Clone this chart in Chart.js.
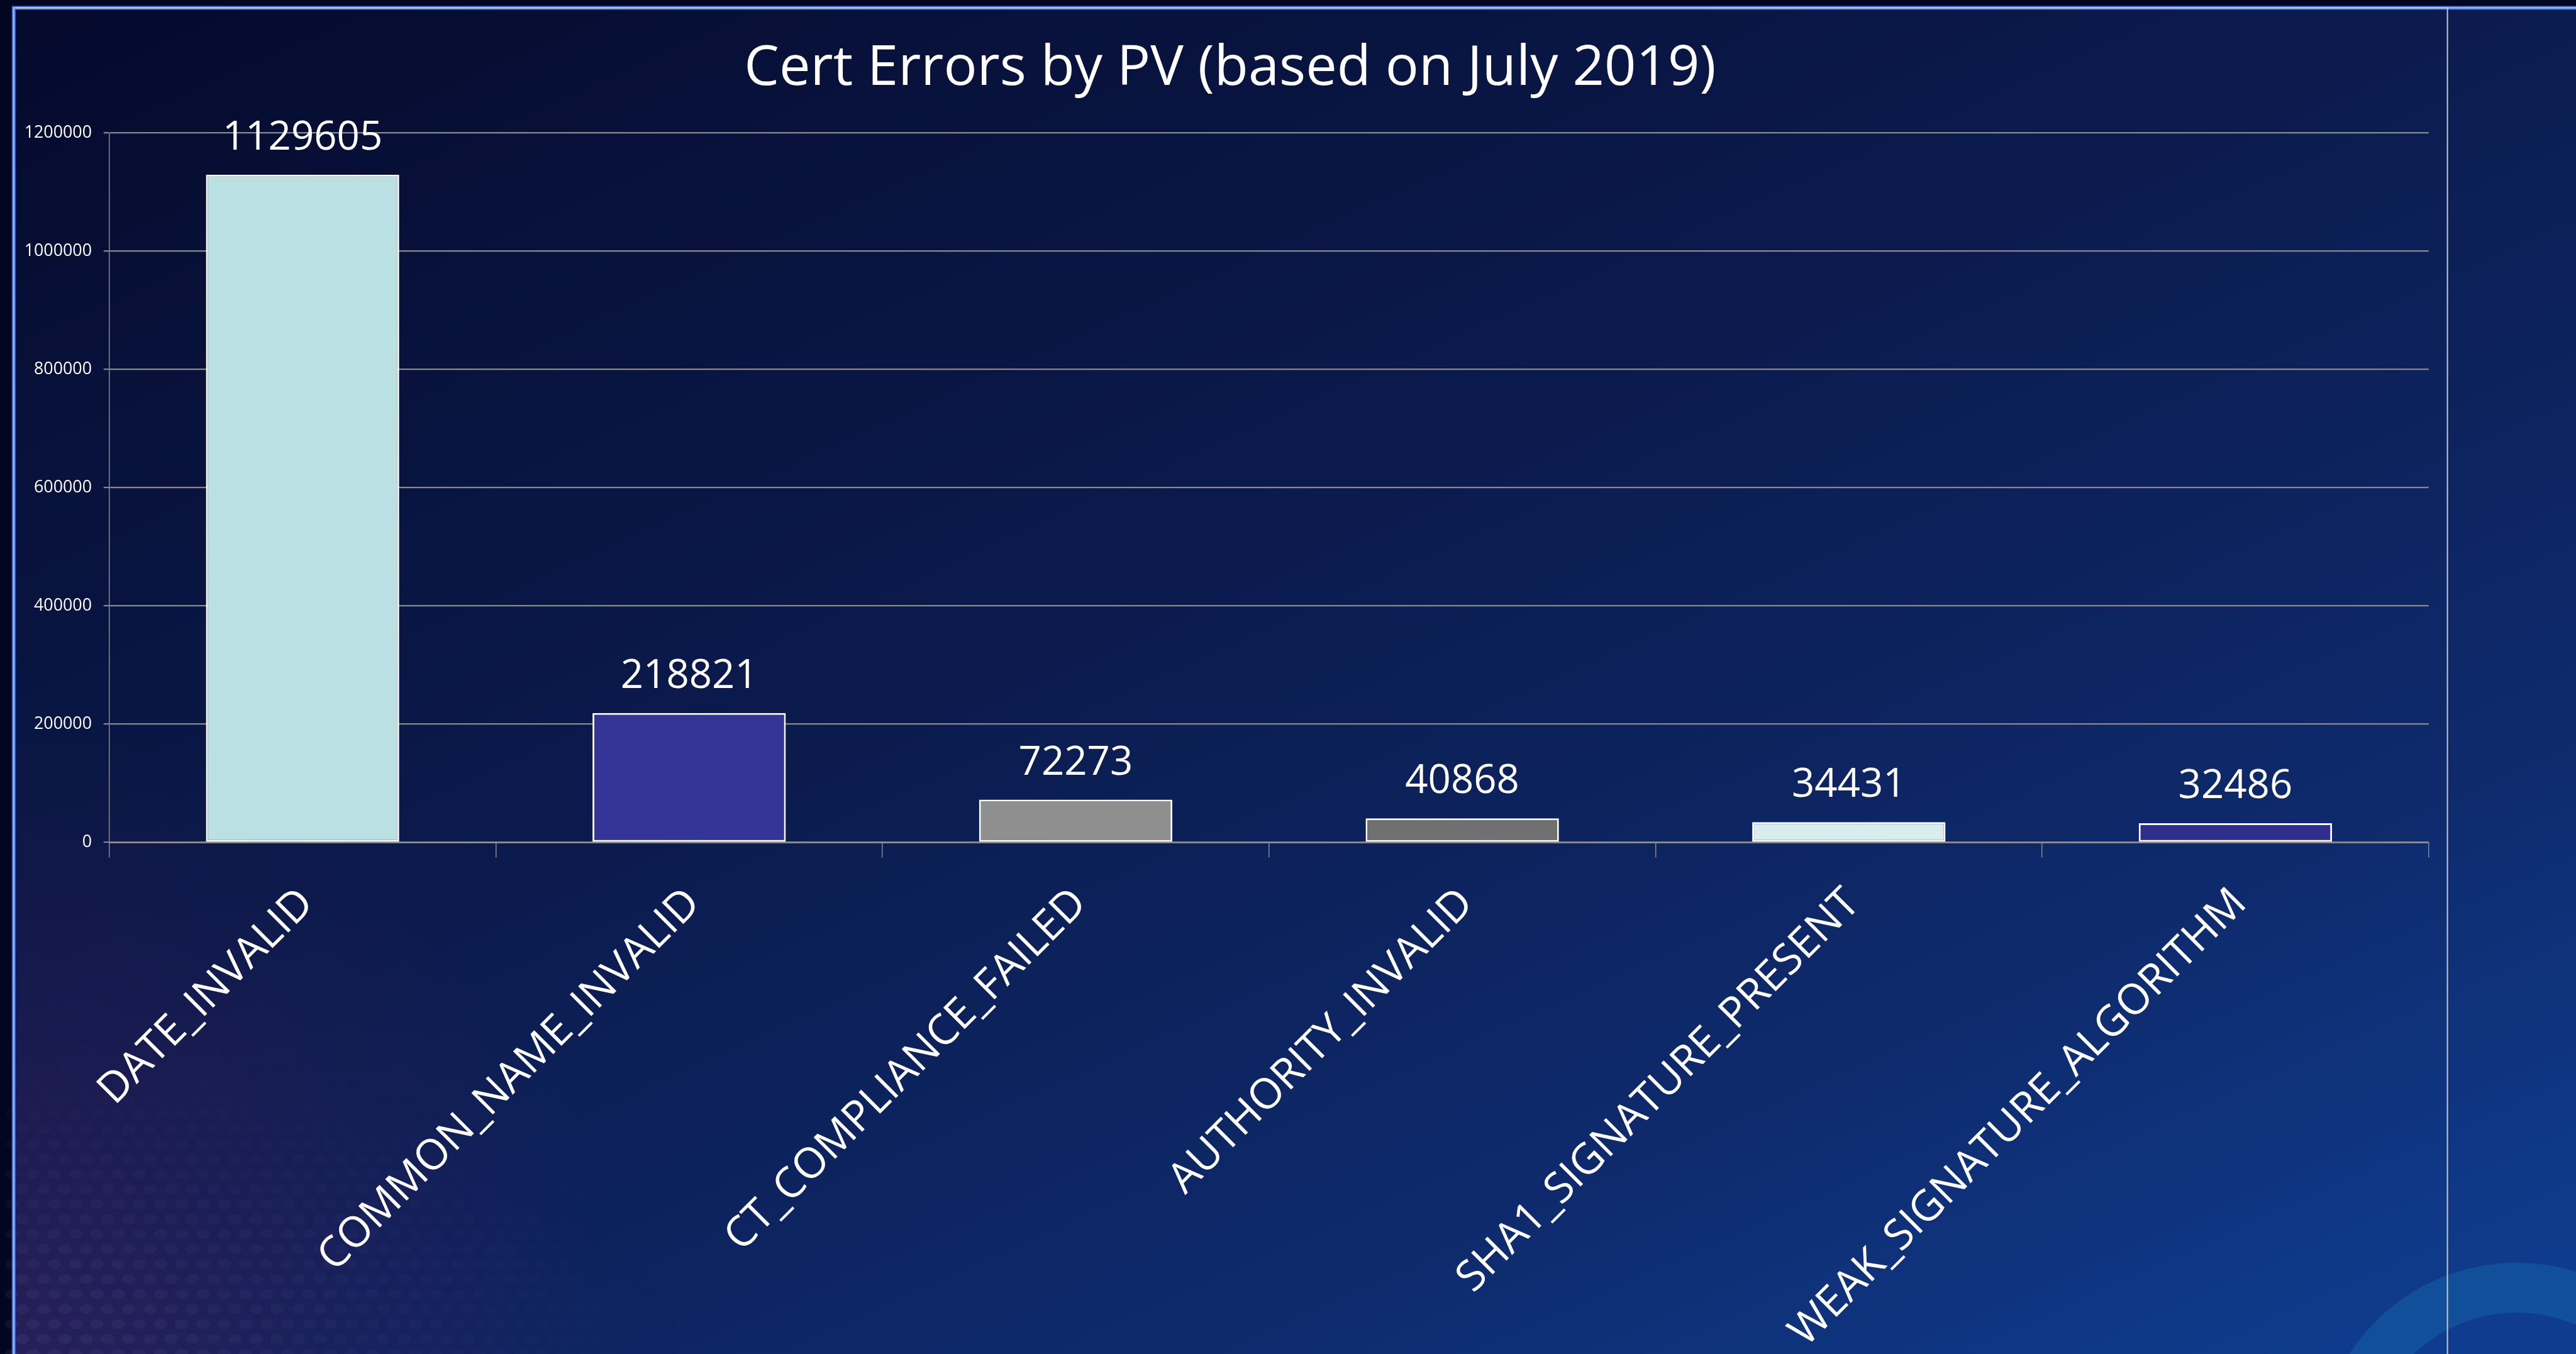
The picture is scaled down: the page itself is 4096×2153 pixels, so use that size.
<!DOCTYPE html>
<html>
<head>
<meta charset="utf-8">
<script src="https://cdn.jsdelivr.net/npm/chart.js@4.4.1/dist/chart.umd.min.js"></script>
<style>
  html, body { margin: 0; padding: 0; background: #030620; overflow: hidden; }
  canvas { display: block; }
</style>
</head>
<body>
<canvas id="myChart" width="4096" height="2153"></canvas>
<script>
// data
const categories = [
  'DATE_INVALID',
  'COMMON_NAME_INVALID',
  'CT_COMPLIANCE_FAILED',
  'AUTHORITY_INVALID',
  'SHA1_SIGNATURE_PRESENT',
  'WEAK_SIGNATURE_ALGORITHM'
];
const pageViews = [1129605, 218821, 72273, 40868, 34431, 32486];
const yTicks = [0, 200000, 400000, 600000, 800000, 1000000, 1200000];
const barColors = ['#bbe0e3', '#353597', '#8f8f8f', '#707070', '#d9edef', '#302e8c'];

// reference -> window scale
const S = 0.993;
const px = v => v * S;
const FONT = "'Open Sans', 'Noto Sans', sans-serif";
const gridColor = '#868991';
const padL = px(50.5);

// background, swirl and slide frame
const backdrop = {
  id: 'backdrop',
  // let the y tick labels use the space left of the layout padding
  afterLayout(chart) {
    chart.scales.y.left = 0;
  },
  beforeDraw(chart) {
    const { ctx, width, height } = chart;
    ctx.save();
    ctx.fillStyle = '#030620';
    ctx.fillRect(0, 0, width, height);

    const fx = px(19), fy = px(10);
    const g = ctx.createLinearGradient(0, 0, px(1459), px(3243));
    g.addColorStop(0, '#050a2c');
    g.addColorStop(0.46, '#0b1b4e');
    g.addColorStop(0.77, '#0e2a6c');
    g.addColorStop(1, '#0f3c8e');
    ctx.fillStyle = g;
    ctx.fillRect(fx, fy, width - fx, height - fy);

    // purple haze lower left
    const r = ctx.createRadialGradient(0, height, 0, 0, height, px(1000));
    r.addColorStop(0, 'rgba(90,30,90,0.35)');
    r.addColorStop(1, 'rgba(90,30,90,0)');
    ctx.fillStyle = r;
    ctx.fillRect(fx, height - px(1000), px(1000), px(1000));

    // faint dots lower left
    for (let row = 0; row < 22; row++) {
      const y = height - row * px(24);
      for (let col = 0; col < 40; col++) {
        const x = fx + col * px(34) + (row % 2) * px(17);
        const d = Math.hypot(x / px(1100), (height - y) / px(520));
        if (d > 1) continue;
        ctx.fillStyle = 'rgba(120,110,190,' + (0.12 * (1 - d)) + ')';
        ctx.beginPath();
        ctx.ellipse(x, y, px(11), px(8), 0, 0, Math.PI * 2);
        ctx.fill();
      }
    }

    // light blue swirl lower right
    ctx.strokeStyle = 'rgba(20,100,170,0.5)';
    ctx.lineWidth = px(80);
    ctx.beginPath();
    ctx.arc(px(4030), px(2341), px(279), 0, Math.PI * 2);
    ctx.stroke();

    // slide frame (blue glow)
    ctx.lineCap = 'butt';
    ctx.strokeStyle = '#3b6fe6';
    ctx.lineWidth = px(6);
    ctx.beginPath();
    ctx.moveTo(px(22), height);
    ctx.lineTo(px(22), px(12.5));
    ctx.lineTo(width, px(12.5));
    ctx.stroke();
    ctx.strokeStyle = '#a9c6ff';
    ctx.lineWidth = px(2);
    ctx.stroke();

    // chart frame
    ctx.strokeStyle = '#c4c8d2';
    ctx.lineWidth = px(2);
    ctx.beginPath();
    ctx.moveTo(px(25), px(12.5));
    ctx.lineTo(px(3919), px(12.5));
    ctx.lineTo(px(3919), height);
    ctx.stroke();
    ctx.restore();
  }
};

// value above every bar
const valueLabels = {
  id: 'valueLabels',
  afterDatasetsDraw(chart) {
    const { ctx } = chart;
    const meta = chart.getDatasetMeta(0);
    ctx.save();
    ctx.fillStyle = '#ffffff';
    ctx.font = px(64) + 'px ' + FONT;
    ctx.textAlign = 'center';
    ctx.textBaseline = 'alphabetic';
    meta.data.forEach((bar, i) => {
      ctx.fillText(String(pageViews[i]), bar.x, bar.y - px(40));
    });
    ctx.restore();
  }
};

const config = {
  type: 'bar',
  data: {
    labels: categories,
    datasets: [{
      data: pageViews,
      backgroundColor: barColors,
      borderColor: '#ffffff',
      borderWidth: px(3),
      borderSkipped: false,
      categoryPercentage: 1,
      barPercentage: 0.5
    }]
  },
  options: {
    responsive: false,
    devicePixelRatio: 1,
    animation: false,
    layout: {
      padding: { left: padL, right: 4096 - px(3889), top: 0, bottom: 0 }
    },
    plugins: {
      legend: { display: false },
      tooltip: { enabled: false },
      title: {
        display: true,
        text: 'Cert Errors by PV (based on July 2019)',
        color: '#ffffff',
        font: { family: FONT, size: px(89), weight: 'normal', lineHeight: 1.2 },
        padding: { top: px(57), bottom: px(213) - px(57) - px(89) * 1.2 }
      }
    },
    scales: {
      x: {
        grid: {
          drawOnChartArea: false,
          drawTicks: true,
          tickLength: px(24),
          color: gridColor,
          lineWidth: px(1.5)
        },
        border: { display: true, color: gridColor, width: px(2) },
        ticks: {
          color: '#ffffff',
          font: { family: FONT, size: px(68) },
          minRotation: 45,
          maxRotation: 45,
          autoSkip: false,
          padding: px(34),
          labelOffset: px(7)
        },
        afterFit: s => { s.height = 2153 - px(1349); }
      },
      y: {
        min: 0,
        max: 1200000,
        afterBuildTicks: s => { s.ticks = yTicks.map(v => ({ value: v })); },
        grid: {
          color: gridColor,
          lineWidth: px(2.2),
          tickLength: px(9),
          drawTicks: true
        },
        border: { display: true, color: gridColor, width: px(1.5) },
        ticks: {
          color: '#ffffff',
          font: { family: FONT, size: px(27) },
          padding: px(19),
          callback: v => String(v)
        },
        afterFit: s => { s.width = px(175) - padL; }
      }
    }
  },
  plugins: [backdrop, valueLabels]
};

const myChart = new Chart(document.getElementById('myChart'), config);
</script>
</body>
</html>
